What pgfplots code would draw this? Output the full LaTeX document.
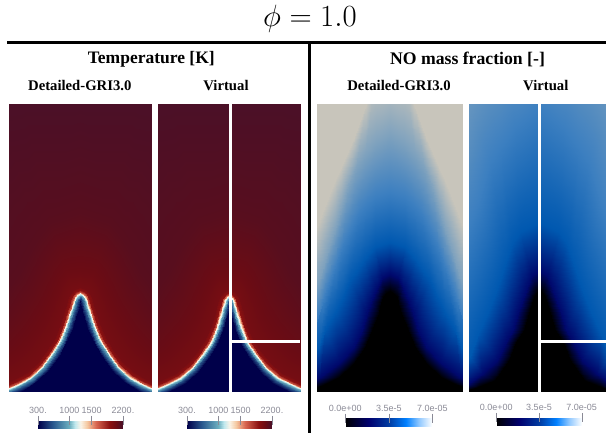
\documentclass[border=0pt]{standalone}
\usepackage[no-math]{fontspec}
\usepackage{pgfplots}
\usepackage{pgfplotstable}
\pgfplotsset{compat=1.18}
\newfontfamily\timesf{Liberation Serif}
\newfontfamily\arialf{Liberation Sans}
\definecolor{tickgrey}{RGB}{138,138,150}
\pgfplotsset{
 colormap={tfield}{rgb255(300pt)=(0,0,74) rgb255(640pt)=(42,90,143) rgb255(1000pt)=(108,176,192) rgb255(1125pt)=(192,232,238) rgb255(1250pt)=(250,244,232) rgb255(1400pt)=(245,200,160) rgb255(1600pt)=(216,101,79) rgb255(1900pt)=(138,16,16) rgb255(2050pt)=(107,12,20) rgb255(2120pt)=(88,14,30) rgb255(2200pt)=(74,16,40)},
 colormap={nofield}{rgb255(0pt)=(0,0,0) rgb255(10pt)=(0,8,108) rgb255(20pt)=(0,88,176) rgb255(30pt)=(60,127,192) rgb255(40pt)=(127,162,190) rgb255(50pt)=(200,197,187)},
 colormap={nobar}{rgb255(0pt)=(0,0,0) rgb255(27pt)=(0,0,110) rgb255(50pt)=(0,58,160) rgb255(70pt)=(0,128,255) rgb255(85pt)=(144,200,255) rgb255(100pt)=(255,255,255)},
 panel/.style={scale only axis,hide axis,view={0}{90},enlargelimits=false,clip=true,
   height=288pt,ymin=0,ymax=288,anchor=south west},
 cbar/.style={scale only axis,view={0}{90},enlargelimits=false,anchor=south west,
   width=85pt,height=8.5pt,ymin=0,ymax=1,ytick=\empty,
   axis line style={draw=none},xtick pos=upper,xticklabel pos=upper,
   tick align=center,major tick length=9pt,
   tick style={draw=tickgrey,line width=0.4pt},
   xticklabel style={font=\fontsize{9}{10}\selectfont\arialf,text=tickgrey,yshift=-1.5pt}},
}
\pgfplotstableread{
d y T
0 -10 300
0 -10 300
0 -10 300
0.1 -10 300
1.6 -10 300
3.4 -10 300
7.5 -10 300
13.9 -10 300
22.8 -10 300
33.5 -10 300
46.1 -10 300
58.8 -10 300
68.5 -10 300
88.2 -10 300
0 91.5 300
0 91.4 300
0 90.6 300
0.1 88.1 300
1.6 83.1 300
3.4 77.9 300
7.5 64.4 300
13.9 48.5 300
22.8 34.4 300
33.5 20.2 300
46.1 8.5 300
58.8 1.3 300
68.5 -2.9 300
88.2 -7.8 300
0 94.5 600
0.6 93.8 600
2 92.1 600
3 88.9 600
4.5 83.9 600
6.2 78.8 600
10.3 65.5 600
16.5 50 600
25.2 36.2 600
35.6 22.4 600
47.8 11 600
60 4 600
69.6 -0.1 600
89 -4.9 600
0 96.5 900
1.8 95.4 900
3.7 93 900
4.9 89.5 900
6.4 84.5 900
8.1 79.4 900
12.1 66.3 900
18.3 51 900
26.7 37.5 900
36.9 23.8 900
48.9 12.6 900
60.9 5.9 900
70.3 1.8 900
89.5 -2.9 900
0 98.5 1250
3 97 1250
5.5 94 1250
6.8 90 1250
8.3 85 1250
10 80 1250
14 67 1250
20 52 1250
28.3 38.7 1250
38.3 25.3 1250
50 14.3 1250
61.7 7.7 1250
71 3.7 1250
90 -1 1250
0 100 1650
3.9 98.2 1650
6.8 94.7 1650
8.2 90.4 1650
9.7 85.4 1650
11.4 80.5 1650
15.4 67.6 1650
21.3 52.8 1650
29.5 39.6 1650
39.3 26.4 1650
50.8 15.5 1650
62.3 9.1 1650
71.5 5.1 1650
90.4 0.5 1650
0 101.7 1900
4.9 99.6 1900
8.3 95.5 1900
9.9 90.9 1900
11.4 85.9 1900
13 81 1900
17 68.2 1900
22.8 53.6 1900
30.8 40.7 1900
40.5 27.6 1900
51.8 17 1900
63 10.6 1900
72.1 6.7 1900
90.8 2.1 1900
0 105 2000
6.9 102.2 2000
11.2 97.1 2000
13 91.8 2000
14.5 86.8 2000
16.2 82 2000
20 69.4 2000
25.7 55.3 2000
33.4 42.7 2000
42.7 30 2000
53.6 19.7 2000
64.4 13.6 2000
73.3 9.8 2000
91.6 5.3 2000
0 122 2050
14 120 2050
20 112 2050
24 104 2050
27 97 2050
30 91 2050
36 78 2050
44 65 2050
52 54 2050
62 43 2050
74 34 2050
85 28 2050
95 25 2050
110 20 2050
0 180 2120
30 170 2120
42 155 2120
50 142 2120
56 130 2120
61 120 2120
70 108 2120
80 92 2120
92 78 2120
105 65 2120
118 55 2120
130 47 2120
140 42 2120
155 35 2120
0 300 2200
60 300 2200
85 295 2200
100 285 2200
110 270 2200
120 250 2200
135 225 2200
150 200 2200
165 175 2200
175 150 2200
185 125 2200
195 100 2200
200 85 2200
210 65 2200
}\tempgri
\pgfplotstableread{
d y T
0 -10 300
0 -10 300
0 -10 300
0 -10 300
0.3 -10 300
1.9 -10 300
5.8 -10 300
12.2 -10 300
21.6 -10 300
32.7 -10 300
45.6 -10 300
58.8 -10 300
68.5 -10 300
88.2 -10 300
0 89.5 300
0 89.2 300
0 88.1 300
0 85.6 300
0.3 80.8 300
1.9 75.9 300
5.8 62.4 300
12.2 46.5 300
21.6 32.9 300
32.7 19.2 300
45.6 8 300
58.8 1.3 300
68.5 -2.9 300
88.2 -7.8 300
0 92.5 600
0.1 91.6 600
1 89.6 600
1.8 86.4 600
3.2 81.6 600
4.7 76.8 600
8.6 63.5 600
14.8 48 600
24 34.7 600
34.8 21.4 600
47.3 10.5 600
60 4 600
69.6 -0.1 600
89 -4.9 600
0 94.5 900
1.3 93.2 900
2.7 90.5 900
3.7 87 900
5.1 82.2 900
6.6 77.4 900
10.4 64.3 900
16.6 49 900
25.5 36 900
36.1 22.8 900
48.4 12.1 900
60.9 5.9 900
70.3 1.8 900
89.5 -2.9 900
0 96.5 1250
2.5 94.8 1250
4.5 91.5 1250
5.6 87.5 1250
7 82.7 1250
8.5 78 1250
12.3 65 1250
18.3 50 1250
27.1 37.2 1250
37.5 24.3 1250
49.5 13.8 1250
61.7 7.7 1250
71 3.7 1250
90 -1 1250
0 98 1650
3.4 96 1650
5.8 92.2 1650
7 87.9 1650
8.4 83.1 1650
9.9 78.5 1650
13.7 65.6 1650
19.6 50.8 1650
28.3 38.1 1650
38.5 25.4 1650
50.3 15 1650
62.3 9.1 1650
71.5 5.1 1650
90.4 0.5 1650
0 99.7 1900
4.4 97.4 1900
7.3 93 1900
8.7 88.4 1900
10.1 83.6 1900
11.5 79 1900
15.3 66.2 1900
21.1 51.6 1900
29.6 39.2 1900
39.7 26.6 1900
51.3 16.5 1900
63 10.6 1900
72.1 6.7 1900
90.8 2.1 1900
0 103 2000
6.4 100 2000
10.2 94.6 2000
11.8 89.3 2000
13.2 84.5 2000
14.7 80 2000
18.3 67.4 2000
24 53.3 2000
32.2 41.2 2000
41.9 29 2000
53.1 19.2 2000
64.4 13.6 2000
73.3 9.8 2000
91.6 5.3 2000
0 120 2050
13.5 118 2050
19 110 2050
23 102 2050
26 95 2050
29 89 2050
34.5 76 2050
42.5 63 2050
51 53 2050
61 42 2050
73.5 33.5 2050
85 28 2050
95 25 2050
110 20 2050
0 180 2120
30 170 2120
42 155 2120
50 142 2120
56 130 2120
61 120 2120
70 108 2120
80 92 2120
92 78 2120
105 65 2120
118 55 2120
130 47 2120
140 42 2120
155 35 2120
0 300 2200
60 300 2200
85 295 2200
100 285 2200
110 270 2200
120 250 2200
135 225 2200
150 200 2200
165 175 2200
175 150 2200
185 125 2200
195 100 2200
200 85 2200
210 65 2200
}\tempvirt
\pgfplotstableread{
d y V
0 -8 0
3.5 -8 0
7 -8 0
9.5 -8 0
11 -8 0
18 -8 0
25 -8 0
36 -8 0
51 -8 0
65 -8 0
85 -8 0
0 101 0
3.5 99 0
7 95 0
9.5 86 0
11 79 0
18 62 0
25 45 0
36 29 0
51 15 0
65 8 0
85 0 0
0 118 10
8 114 10
13 104 10
19 90 10
23 79 10
28 62 10
36 45 10
51 29 10
70 15 10
85 8 10
100 2 10
0 150 20
15 145 20
26 132 20
34 120 20
40 112 20
47 95 20
55 79 20
65 62 20
71 45 20
85 30 20
100 18 20
0 200 30
15 195 30
24 187 30
31 179 30
40 162 30
48 145 30
54 128 30
60 112 30
66 95 30
71 79 30
90 50 30
0 258 40
14 250 40
25 238 40
34 225 40
42 205 40
49 183 40
55 163 40
61 145 40
66 128 40
71 112 40
90 80 40
0 320 50
15 315 50
24 288 50
36 255 50
49 225 50
55 212 50
68 179 50
75 160 50
90 130 50
110 100 50
130 70 50
0 420 50
60 420 50
120 420 50
160 400 50
200 350 50
220 300 50
240 250 50
260 200 50
280 150 50
300 100 50
320 50 50
}\nogri
\pgfplotstableread{
d y V
0 -8 0
3 -8 0
6 -8 0
8.5 -8 0
10.5 -8 0
16 -8 0
24 -8 0
31 -8 0
45 -8 0
62 -8 0
85 -8 0
0 103 0
3 100 0
6 95 0
8.5 86 0
10.5 79 0
16 62 0
24 50 0
31 32 0
45 12 0
62 5 0
85 -2 0
0 122 10
8 116 10
13 104 10
18 90 10
22 79 10
27 62 10
33 52 10
43 32 10
58 18 10
72 8 10
90 0 10
0 170 20
20 160 20
28 148 20
34 130 20
38 118 20
44 100 20
52 80 20
62 58 20
70 35 20
82 20 20
100 6 20
0 285 30
25 265 30
40 245 30
50 230 30
62 190 30
72 165 30
85 135 30
100 100 30
120 70 30
140 50 30
160 35 30
0 400 40
40 380 40
70 350 40
85 320 40
95 290 40
105 260 40
120 220 40
135 180 40
155 140 40
175 110 40
195 80 40
}\novirt
\begin{document}
\begin{tikzpicture}[x=1pt,y=1pt]
\useasboundingbox (0,0) rectangle (606,433);
% Temperature, detailed
\begin{axis}[panel,at={(9pt,41pt)},width=142pt,xmin=0,xmax=142,colormap name=tfield,point meta min=300,point meta max=2200]
\addplot3[surf,shader=interp,mesh/rows=11] table[x expr=71.0+\thisrow{d},y=y,z=T]{\tempgri};
\addplot3[surf,shader=interp,mesh/rows=11] table[x expr=71.4-\thisrow{d},y=y,z=T]{\tempgri};
\end{axis}
% Temperature, virtual
\begin{axis}[panel,at={(158pt,41pt)},width=142pt,xmin=0,xmax=142,colormap name=tfield,point meta min=300,point meta max=2200]
\addplot3[surf,shader=interp,mesh/rows=11] table[x expr=70.8+\thisrow{d},y=y,z=T]{\tempvirt};
\addplot3[surf,shader=interp,mesh/rows=11] table[x expr=71.2-\thisrow{d},y=y,z=T]{\tempvirt};
\addplot3[white,line width=3pt] coordinates {(72,0,3000)(72,288,3000)};
\addplot3[white,line width=3pt] coordinates {(72,50.7,3000)(142,50.7,3000)};
\end{axis}
% NO, detailed
\begin{axis}[panel,at={(317pt,41pt)},width=145pt,xmin=0,xmax=145,colormap name=nofield,point meta min=0,point meta max=50]
\addplot3[surf,shader=interp,mesh/rows=8] table[x expr=72.5+\thisrow{d},y=y,z=V]{\nogri};
\addplot3[surf,shader=interp,mesh/rows=8] table[x expr=72.9-\thisrow{d},y=y,z=V]{\nogri};
\end{axis}
% NO, virtual
\begin{axis}[panel,at={(468.3pt,41pt)},width=137.7pt,xmin=0,xmax=137.7,colormap name=nofield,point meta min=0,point meta max=50]
\addplot3[surf,shader=interp,mesh/rows=6] table[x expr=71.0+\thisrow{d},y=y,z=V]{\novirt};
\addplot3[surf,shader=interp,mesh/rows=6] table[x expr=71.4-\thisrow{d},y=y,z=V]{\novirt};
\addplot3[white,line width=3pt] coordinates {(71.2,0,60)(71.2,288,60)};
\addplot3[white,line width=3pt] coordinates {(71.2,50.7,60)(137.7,50.7,60)};
\end{axis}
% colour bars
\begin{axis}[cbar,at={(38pt,4pt)},xmin=300,xmax=2200,xtick={300,1000,1500,2200},xticklabels={300.,1000,1500,2200.},colormap name=tfield,point meta min=300,point meta max=2200]
\addplot3[surf,shader=interp,mesh/rows=2] coordinates {(300,0,300)(2200,0,2200)(300,1,300)(2200,1,2200)};
\end{axis}
\begin{axis}[cbar,at={(187pt,4pt)},xmin=300,xmax=2200,xtick={300,1000,1500,2200},xticklabels={300.,1000,1500,2200.},colormap name=tfield,point meta min=300,point meta max=2200]
\addplot3[surf,shader=interp,mesh/rows=2] coordinates {(300,0,300)(2200,0,2200)(300,1,300)(2200,1,2200)};
\end{axis}
\begin{axis}[cbar,at={(345.3pt,6.3pt)},width=87pt,xmin=0,xmax=100,xtick={0,50,100},xticklabels={0.0e+00,3.5e-5,7.0e-05},colormap name=nobar,point meta min=0,point meta max=100]
\addplot3[surf,shader=interp,mesh/rows=2] coordinates {(0,0,0)(100,0,100)(0,1,0)(100,1,100)};
\end{axis}
\begin{axis}[cbar,at={(496.3pt,7pt)},width=85.4pt,xmin=0,xmax=100,xtick={0,50,100},xticklabels={0.0e+00,3.5e-5,7.0e-05},colormap name=nobar,point meta min=0,point meta max=100]
\addplot3[surf,shader=interp,mesh/rows=2] coordinates {(0,0,0)(100,0,100)(0,1,0)(100,1,100)};
\end{axis}
% frame lines
\draw[black,line width=3pt] (7,390.7) -- (606,390.7);
\draw[black,line width=3pt] (309,390.7) -- (309,0);
% headings
\node[scale=1.237] at (310,414) {\fontsize{24}{26}\selectfont $\phi=1.0$};
\node at (151.3,373.7) {\fontsize{17.5}{18}\selectfont\timesf\bfseries Temperature [K]};
\node at (467.5,373.7) {\fontsize{17.7}{18}\selectfont\timesf\bfseries NO mass fraction [-]};
\node at (79.8,347.7) {\fontsize{14.7}{16}\selectfont\timesf\bfseries Detailed-GRI3.0};
\node at (226,347.7) {\fontsize{14.7}{16}\selectfont\timesf\bfseries Virtual};
\node at (399,347.7) {\fontsize{14.7}{16}\selectfont\timesf\bfseries Detailed-GRI3.0};
\node at (545.8,347.7) {\fontsize{14.7}{16}\selectfont\timesf\bfseries Virtual};
\end{tikzpicture}
\end{document}
